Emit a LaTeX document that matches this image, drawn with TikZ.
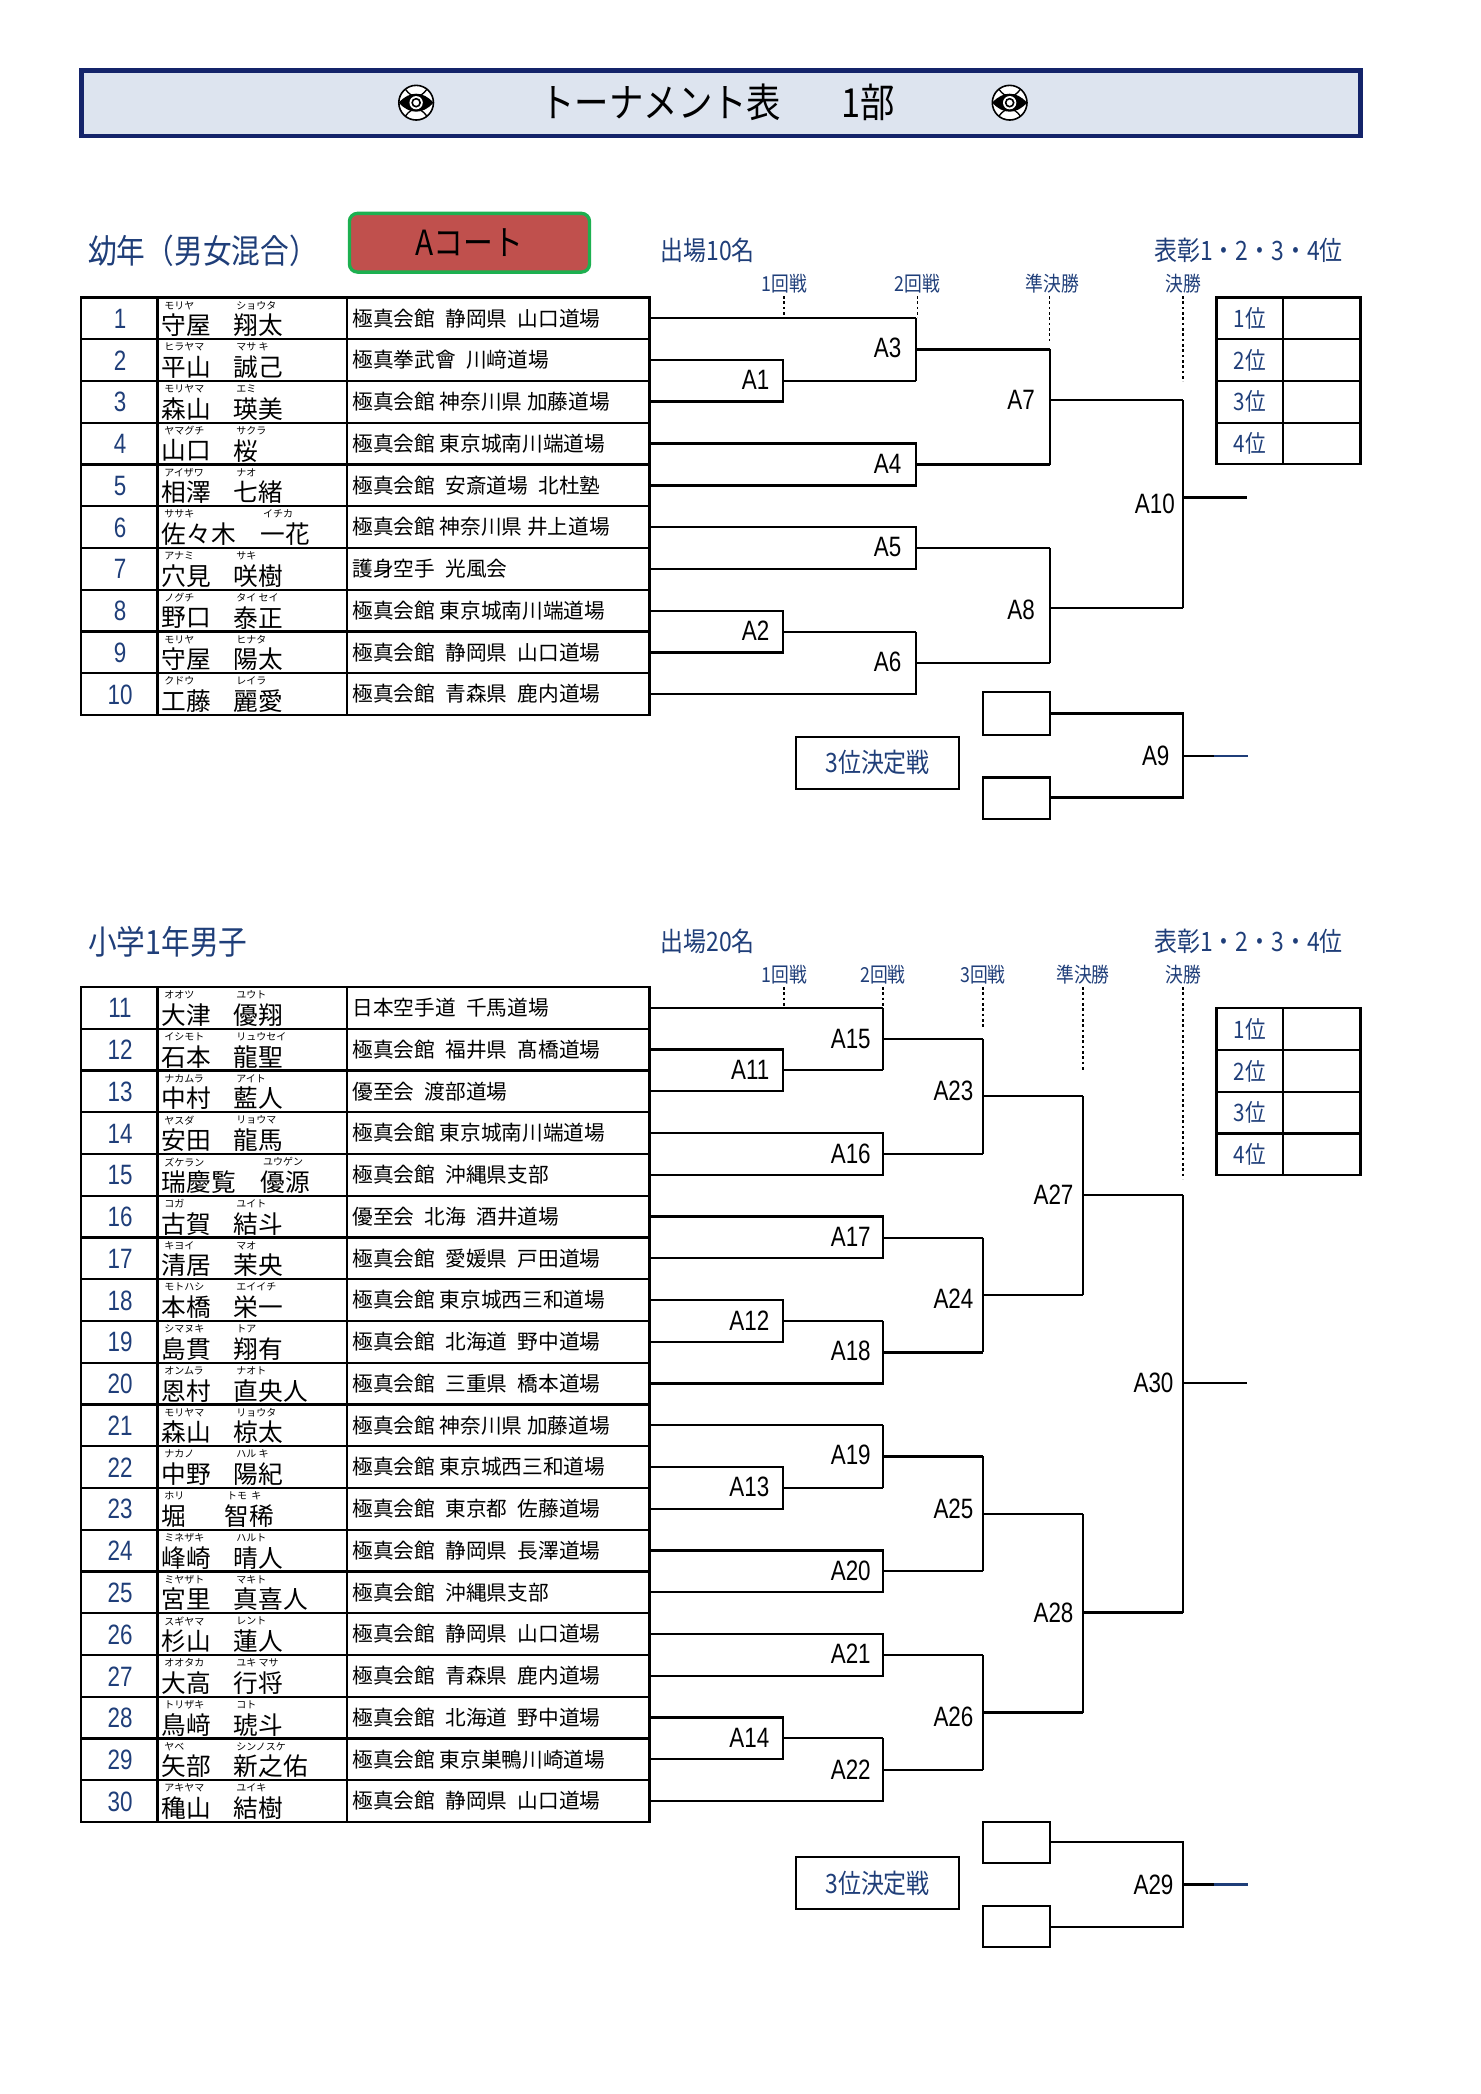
\documentclass[tikz,border=0pt]{standalone}
\usepackage{fontspec}
\setmainfont{Noto Sans CJK JP}
\newfontfamily\jpn{Noto Sans CJK JP}[FakeStretch=0.86]
\newfontfamily\nar{Liberation Sans}[FakeStretch=0.8]
\definecolor{tblue}{HTML}{1F3E79}
\definecolor{hfill}{HTML}{DDE4EF}
\definecolor{hbord}{HTML}{14246A}
\definecolor{court}{HTML}{C0504D}
\definecolor{cgreen}{HTML}{1DB050}
\newcommand\hs{\hspace{0.5em}}
\tikzset{
 ln/.style={line width=1.7pt},
 dot/.style={line width=1.2pt,dash pattern=on 2pt off 2pt},
 num/.style={font=\nar\fontsize{21}{21}\selectfont,text=tblue,inner sep=0},
 kana/.style={font=\fontsize{7.5}{7.5}\selectfont,anchor=west,inner sep=0},
 nm/.style={font=\fontsize{18.5}{18.5}\selectfont,anchor=west,inner sep=0},
 dojo/.style={font=\fontsize{15.5}{15.5}\selectfont,anchor=west,inner sep=0},
 alab/.style={font=\nar\fontsize{21}{21}\selectfont,anchor=east,inner sep=0},
 rnd/.style={font=\jpn\fontsize{15.5}{15.5}\selectfont,text=tblue,inner sep=0},
 head/.style={font=\jpn\fontsize{25}{25}\selectfont,text=tblue,inner sep=0},
 rank/.style={font=\jpn\fontsize{18}{18}\selectfont,text=tblue,inner sep=0},
}
\newcommand\entry[8]{%
 \node[num] (n#2) at (90,#1+16) {#2};
 \node[kana] (fk#2) at (123,#1+6) {#4};
 \node[nm] (f#2) at (121,#1+21) {#3};
 \node[kana] (gk#2) at (#7+2,#1+6) {#6};
 \node[nm] (g#2) at (#7,#1+21) {#5};
 \node[dojo] (d#2) at (264,#1+15.6) {#8};
}
\newcommand\emblem[2]{%
 \begin{scope}[shift={(#1,#2)}]
  \fill[white] (0,0) circle (13);
  \draw[line width=1.2pt] (0,0) circle (13);
  \fill (-13,0) .. controls (-5,-9) and (5,-9) .. (13,0) .. controls (5,9) and (-5,9) .. (-13,0);
  \draw[line width=1pt] (-8,-10) .. controls (-3,-3) and (3,-3) .. (8,-10);
  \draw[line width=1pt] (-8,10) .. controls (-3,3) and (3,3) .. (8,10);
  \fill[white] (0,0) circle (5);
  \draw[line width=1.2pt] (0,0) circle (3);
 \end{scope}}
\begin{document}
\begin{tikzpicture}[x=1pt,y=-1pt]
\useasboundingbox (0,0) rectangle (1110,1570);
\fill[white] (0,0) rectangle (1110,1570);
% header
\draw[line width=3.5pt,draw=hbord,fill=hfill] (61,53) rectangle (1020,102);
\node[font=\jpn\fontsize{30}{30}\selectfont,inner sep=0] (title) at (538,77) {トーナメント表\hspace{1.5em}1部};
\emblem{312}{77}
\emblem{757}{77}

% ===== section 1 =====
\node[head,anchor=west] (s1) at (66,188) {幼年（男女混合）};
\node[draw=cgreen,line width=2.5pt,fill=court,rounded corners=6pt,minimum width=180pt,minimum height=44pt,font=\jpn\fontsize{26}{26}\selectfont] (court) at (352,182) {Aコート};
\node[rnd,anchor=west,font=\jpn\fontsize{20}{20}\selectfont] (c1) at (495,188) {出場10名};
\node[rnd,anchor=east,font=\jpn\fontsize{20}{20}\selectfont] (h1) at (1007,188) {表彰1・2・3・4位};
\node[rnd] (r11) at (588,213) {1回戦};
\node[rnd] (r12) at (688,213) {2回戦};
\node[rnd] (r13) at (789,213) {準決勝};
\node[rnd] (r14) at (887,213) {決勝};
\draw[dot] (588,222) -- (588,238);
\draw[dot] (688,222) -- (688,238);
\draw[dot] (787,222) -- (787,256);
\draw[dot] (887,222) -- (887,286);
% table 1
\draw[ln] (61,223) rectangle (487,536);
\foreach \i in {1,...,9} \draw[ln] (61,223+31.3*\i) -- (487,223+31.3*\i);
\draw[ln] (118,223) -- (118,536);
\draw[ln] (260,223) -- (260,536);
\entry{223}{1}{守屋}{モリヤ}{翔太}{ショウタ}{175}{極真会館\hs{}静岡県\hs{}山口道場}
\entry{254.3}{2}{平山}{ヒラヤマ}{誠己}{マサ\ キ}{175}{極真拳武會\hs{}川﨑道場}
\entry{285.6}{3}{森山}{モリヤマ}{瑛美}{エミ}{175}{極真会館 神奈川県 加藤道場}
\entry{316.9}{4}{山口}{ヤマグチ}{桜}{サクラ}{175}{極真会館 東京城南川端道場}
\entry{348.2}{5}{相澤}{アイザワ}{七緒}{ナオ}{175}{極真会館\hs{}安斎道場\hs{}北杜塾}
\entry{379.5}{6}{佐々木}{ササキ}{一花}{イチカ}{195}{極真会館 神奈川県 井上道場}
\entry{410.8}{7}{穴見}{アナミ}{咲樹}{サキ}{175}{護身空手\hs{}光風会}
\entry{442.1}{8}{野口}{ノグチ}{泰正}{タイ\ セイ}{175}{極真会館 東京城南川端道場}
\entry{473.4}{9}{守屋}{モリヤ}{陽太}{ヒナタ}{175}{極真会館\hs{}静岡県\hs{}山口道場}
\entry{504.7}{10}{工藤}{クドウ}{麗愛}{レイラ}{175}{極真会館\hs{}青森県\hs{}鹿内道場}
% bracket 1
\draw[ln] (487,238.6) -- (687,238.6);
\draw[ln] (487,270) -| (587,301) -- (487,301);
\draw[ln] (587,285.5) -- (687,285.5);
\draw[ln] (687,238.6) -- (687,285.5);
\draw[ln] (687,262) -- (787,262);
\draw[ln] (487,332.6) -| (687,364) -- (487,364);
\draw[ln] (687,348.3) -- (787,348.3);
\draw[ln] (787,262) -- (787,348.3);
\draw[ln] (787,300) -- (887,300);
\draw[ln] (487,395.3) -| (687,426.6) -- (487,426.6);
\draw[ln] (687,411) -- (787,411);
\draw[ln] (487,458) -| (587,489.2) -- (487,489.2);
\draw[ln] (587,473.6) -- (687,473.6);
\draw[ln] (487,520.5) -| (687,473.6);
\draw[ln] (687,497) -- (787,497);
\draw[ln] (787,411) -- (787,497);
\draw[ln] (787,456) -- (887,456);
\draw[ln] (887,300) -- (887,456);
\draw[ln] (887,373) -- (935,373);
\node[alab] (A1) at (577,285) {A1};
\node[alab] (A2) at (577,473) {A2};
\node[alab] (A3) at (676,261) {A3};
\node[alab] (A4) at (676,348) {A4};
\node[alab] (A5) at (676,410) {A5};
\node[alab] (A6) at (676,496) {A6};
\node[alab] (A7) at (776,300) {A7};
\node[alab] (A8) at (776,457) {A8};
\node[alab] (A10) at (881,378) {A10};
% rank table 1
\draw[ln] (912,223) rectangle (1020,348);
\foreach \i in {1,2,3} \draw[ln] (912,223+31.3*\i) -- (1020,223+31.3*\i);
\draw[ln] (962,223) -- (962,348);
\foreach \i in {1,...,4} \node[rank] (ra\i) at (937,223+31.3*\i-15.6) {\i 位};
% third place 1
\draw[ln] (737,519) rectangle (787,551);
\draw[ln] (737,583) rectangle (787,614);
\draw[ln] (787,535) -| (887,598) -- (787,598);
\draw[ln] (887,567) -- (910,567);
\draw[ln,draw=tblue] (910,567) -- (936,567);
\node[alab] (A9) at (877,567) {A9};
\node[draw,line width=1.7pt,minimum width=122pt,minimum height=39pt,font=\jpn\fontsize{20}{20}\selectfont,text=tblue] (t1) at (658,572) {3位決定戦};

% ===== section 2 =====
\node[head,anchor=west] (s2) at (66,706) {小学1年男子};
\node[rnd,anchor=west,font=\jpn\fontsize{20}{20}\selectfont] (c2) at (495,706) {出場20名};
\node[rnd,anchor=east,font=\jpn\fontsize{20}{20}\selectfont] (h2) at (1007,706) {表彰1・2・3・4位};
\node[rnd] (r21) at (588,731) {1回戦};
\node[rnd] (r22) at (662,731) {2回戦};
\node[rnd] (r23) at (737,731) {3回戦};
\node[rnd] (r24) at (812,731) {準決勝};
\node[rnd] (r25) at (887,731) {決勝};
\draw[dot] (588,740) -- (588,756);
\draw[dot] (662,740) -- (662,756);
\draw[dot] (737,740) -- (737,770);
\draw[dot] (812,740) -- (812,803);
\draw[dot] (887,740) -- (887,884);
% table 2
\draw[ln] (61,740) rectangle (487,1366);
\foreach \i in {1,...,19} \draw[ln] (61,740+31.3*\i) -- (487,740+31.3*\i);
\draw[ln] (118,740) -- (118,1366);
\draw[ln] (260,740) -- (260,1366);
\entry{740}{11}{大津}{オオツ}{優翔}{ユウト}{175}{日本空手道\hs{}千馬道場}
\entry{771.3}{12}{石本}{イシモト}{龍聖}{リュウセイ}{175}{極真会館\hs{}福井県\hs{}髙橋道場}
\entry{802.6}{13}{中村}{ナカムラ}{藍人}{アイト}{175}{優至会\hs{}渡部道場}
\entry{833.9}{14}{安田}{ヤスダ}{龍馬}{リョウマ}{175}{極真会館 東京城南川端道場}
\entry{865.2}{15}{瑞慶覧}{ズケラン}{優源}{ユウゲン}{195}{極真会館\hs{}沖縄県支部}
\entry{896.5}{16}{古賀}{コガ}{結斗}{ユイト}{175}{優至会\hs{}北海\hs{}酒井道場}
\entry{927.8}{17}{清居}{キヨイ}{茉央}{マオ}{175}{極真会館\hs{}愛媛県\hs{}戸田道場}
\entry{959.1}{18}{本橋}{モトハシ}{栄一}{エイイチ}{175}{極真会館 東京城西三和道場}
\entry{990.4}{19}{島貫}{シマヌキ}{翔有}{トア}{175}{極真会館\hs{}北海道\hs{}野中道場}
\entry{1021.7}{20}{恩村}{オンムラ}{直央人}{ナオト}{175}{極真会館\hs{}三重県\hs{}橋本道場}
\entry{1053}{21}{森山}{モリヤマ}{椋太}{リョウタ}{175}{極真会館 神奈川県 加藤道場}
\entry{1084.3}{22}{中野}{ナカノ}{陽紀}{ハル\ キ}{175}{極真会館 東京城西三和道場}
\entry{1115.6}{23}{堀}{ホリ}{智稀}{トモ\ \ キ}{168}{極真会館\hs{}東京都\hs{}佐藤道場}
\entry{1146.9}{24}{峰崎}{ミネザキ}{晴人}{ハルト}{175}{極真会館\hs{}静岡県\hs{}長澤道場}
\entry{1178.2}{25}{宮里}{ミヤザト}{真喜人}{マキト}{175}{極真会館\hs{}沖縄県支部}
\entry{1209.5}{26}{杉山}{スギヤマ}{蓮人}{レント}{175}{極真会館\hs{}静岡県\hs{}山口道場}
\entry{1240.8}{27}{大高}{オオタカ}{行将}{ユキ\ マサ}{175}{極真会館\hs{}青森県\hs{}鹿内道場}
\entry{1272.1}{28}{鳥﨑}{トリザキ}{琥斗}{コト}{175}{極真会館\hs{}北海道\hs{}野中道場}
\entry{1303.4}{29}{矢部}{ヤベ}{新之佑}{シンノスケ}{175}{極真会館 東京巣鴨川崎道場}
\entry{1334.7}{30}{穐山}{アキヤマ}{結樹}{ユイキ}{175}{極真会館\hs{}静岡県\hs{}山口道場}
% bracket 2
\draw[ln] (487,755.6) -- (662,755.6);
\draw[ln] (487,786.9) -| (587,818.2) -- (487,818.2);
\draw[ln] (587,802.5) -- (662,802.5);
\draw[ln] (662,755.6) -- (662,802.5);
\draw[ln] (662,779) -- (737,779);
\draw[ln] (487,849.5) -| (662,880.8) -- (487,880.8);
\draw[ln] (662,865) -- (737,865);
\draw[ln] (737,779) -- (737,865);
\draw[ln] (737,822) -- (812,822);
\draw[ln] (487,912.1) -| (662,943.4) -- (487,943.4);
\draw[ln] (662,928) -- (737,928);
\draw[ln] (487,974.7) -| (587,1006) -- (487,1006);
\draw[ln] (587,990.3) -- (662,990.3);
\draw[ln] (487,1037.3) -| (662,990.3);
\draw[ln] (662,1014) -- (737,1014);
\draw[ln] (737,928) -- (737,1014);
\draw[ln] (737,971) -- (812,971);
\draw[ln] (812,822) -- (812,971);
\draw[ln] (812,896) -- (887,896);
\draw[ln] (487,1068.6) -- (662,1068.6);
\draw[ln] (487,1099.9) -| (587,1131.2) -- (487,1131.2);
\draw[ln] (587,1115.5) -- (662,1115.5);
\draw[ln] (662,1068.6) -- (662,1115.5);
\draw[ln] (662,1092) -- (737,1092);
\draw[ln] (487,1162.5) -| (662,1193.8) -- (487,1193.8);
\draw[ln] (662,1178) -- (737,1178);
\draw[ln] (737,1092) -- (737,1178);
\draw[ln] (737,1135) -- (812,1135);
\draw[ln] (487,1225.1) -| (662,1256.4) -- (487,1256.4);
\draw[ln] (662,1241) -- (737,1241);
\draw[ln] (487,1287.7) -| (587,1319) -- (487,1319);
\draw[ln] (587,1303.3) -- (662,1303.3);
\draw[ln] (487,1350.3) -| (662,1303.3);
\draw[ln] (662,1327) -- (737,1327);
\draw[ln] (737,1241) -- (737,1327);
\draw[ln] (737,1284) -- (812,1284);
\draw[ln] (812,1135) -- (812,1284);
\draw[ln] (812,1209) -- (887,1209);
\draw[ln] (887,896) -- (887,1209);
\draw[ln] (887,1037) -- (935,1037);
\node[alab] (A11) at (577,802) {A11};
\node[alab] (A12) at (577,990) {A12};
\node[alab] (A13) at (577,1115) {A13};
\node[alab] (A14) at (577,1303) {A14};
\node[alab] (A15) at (653,779) {A15};
\node[alab] (A16) at (653,865) {A16};
\node[alab] (A17) at (653,927) {A17};
\node[alab] (A18) at (653,1013) {A18};
\node[alab] (A19) at (653,1091) {A19};
\node[alab] (A20) at (653,1178) {A20};
\node[alab] (A21) at (653,1240) {A21};
\node[alab] (A22) at (653,1327) {A22};
\node[alab] (A23) at (730,818) {A23};
\node[alab] (A24) at (730,974) {A24};
\node[alab] (A25) at (730,1131) {A25};
\node[alab] (A26) at (730,1287) {A26};
\node[alab] (A27) at (805,896) {A27};
\node[alab] (A28) at (805,1209) {A28};
\node[alab] (A30) at (880,1037) {A30};
% rank table 2
\draw[ln] (912,756) rectangle (1020,881);
\foreach \i in {1,2,3} \draw[ln] (912,756+31.3*\i) -- (1020,756+31.3*\i);
\draw[ln] (962,756) -- (962,881);
\foreach \i in {1,...,4} \node[rank] (rb\i) at (937,756+31.3*\i-15.6) {\i 位};
% third place 2
\draw[ln] (737,1366) rectangle (787,1397);
\draw[ln] (737,1429) rectangle (787,1460);
\draw[ln] (787,1381) -| (887,1445) -- (787,1445);
\draw[ln] (887,1413) -- (910,1413);
\draw[ln,draw=tblue] (910,1413) -- (936,1413);
\node[alab] (A29) at (880,1413) {A29};
\node[draw,line width=1.7pt,minimum width=122pt,minimum height=39pt,font=\jpn\fontsize{20}{20}\selectfont,text=tblue] (t2) at (658,1412) {3位決定戦};
\end{tikzpicture}
\end{document}
